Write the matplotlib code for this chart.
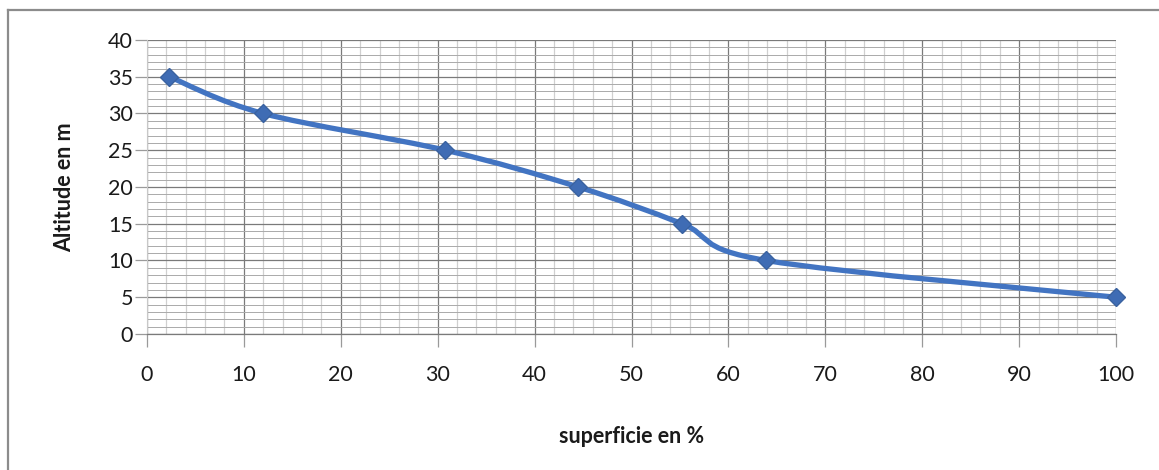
import numpy as np
import matplotlib
matplotlib.use("Agg")
import matplotlib.pyplot as plt
from matplotlib.path import Path
from matplotlib.patches import PathPatch
from matplotlib.lines import Line2D
from matplotlib.ticker import MultipleLocator

# surface (%) vs altitude (m)
superficie = [2.3, 12.0, 30.8, 44.5, 55.2, 63.9, 100.0]
altitude = [35, 30, 25, 20, 15, 10, 5]

x_ticks = [0, 10, 20, 30, 40, 50, 60, 70, 80, 90, 100]
y_ticks = [0, 5, 10, 15, 20, 25, 30, 35, 40]

line_color = '#4274C2'
font = ['Lato', 'DejaVu Sans']


def smooth_path(xs, ys):
    """Catmull-Rom style bezier through the points (like Excel smoothed lines)."""
    pts = np.column_stack([xs, ys]).astype(float)
    n = len(pts)
    verts = [pts[0]]
    codes = [Path.MOVETO]
    for i in range(n - 1):
        p0 = pts[i - 1] if i > 0 else pts[i]
        p1 = pts[i]
        p2 = pts[i + 1]
        p3 = pts[i + 2] if i + 2 < n else pts[i + 1]
        c1 = p1 + (p2 - p0) / 6.0
        c2 = p2 - (p3 - p1) / 6.0
        verts += [c1, c2, p2]
        codes += [Path.CURVE4] * 3
    return Path(verts, codes)


fig = plt.figure(figsize=(11.59, 4.70), dpi=100)
ax = fig.add_axes([0.1268, 0.2894, 0.8362, 0.6255])

# outer chart border (top / left)
fig.add_artist(Line2D([0.007, 0.007], [0.0, 0.979], transform=fig.transFigure,
                      color='#8c8c8c', lw=1.6))
fig.add_artist(Line2D([0.007, 1.0], [0.979, 0.979], transform=fig.transFigure,
                      color='#8c8c8c', lw=1.6))

ax.set_xlim(0, 100)
ax.set_ylim(0, 40)
ax.set_xticks(x_ticks)
ax.set_yticks(y_ticks)
ax.xaxis.set_minor_locator(MultipleLocator(2))
ax.yaxis.set_minor_locator(MultipleLocator(1))

ax.grid(which='major', color='#7a7a7a', lw=0.9)
ax.xaxis.grid(which='minor', color='#d0d0d0', lw=0.9)
ax.yaxis.grid(which='minor', color='#aaaaaa', lw=0.7)
ax.set_axisbelow(True)

for side in ['top', 'right']:
    ax.spines[side].set_visible(False)
ax.spines['left'].set_color('#c8c8c8')
ax.spines['left'].set_linewidth(0.8)
ax.spines['bottom'].set_color('#7a7a7a')
ax.spines['bottom'].set_linewidth(0.9)

ax.tick_params(which='major', direction='out', length=9, width=0.9,
               color='#9a9a9a', labelsize=15.5, labelcolor='#1a1a1a')
ax.tick_params(axis='x', which='major', pad=13)
ax.tick_params(axis='y', which='major', pad=1)
ax.tick_params(which='minor', length=0)
for lab in ax.get_xticklabels() + ax.get_yticklabels():
    lab.set_family(font)

ax.add_patch(PathPatch(smooth_path(superficie, altitude), facecolor='none',
                       edgecolor=line_color, lw=3.8, capstyle='round',
                       joinstyle='round', zorder=3))
ax.plot(superficie, altitude, linestyle='none', marker='D', markersize=9,
        color='#3f6cb4', markeredgecolor='#3a62a0', zorder=4, clip_on=False)

ax.set_xlabel('superficie en %', family=font, fontsize=15.5, fontweight='bold',
              color='#1a1a1a', labelpad=30)
ax.set_ylabel('Altitude en m', family=font, fontsize=15.5, fontweight='bold',
              color='#1a1a1a', labelpad=24)

fig.savefig('out.png', dpi=100, facecolor='white')
